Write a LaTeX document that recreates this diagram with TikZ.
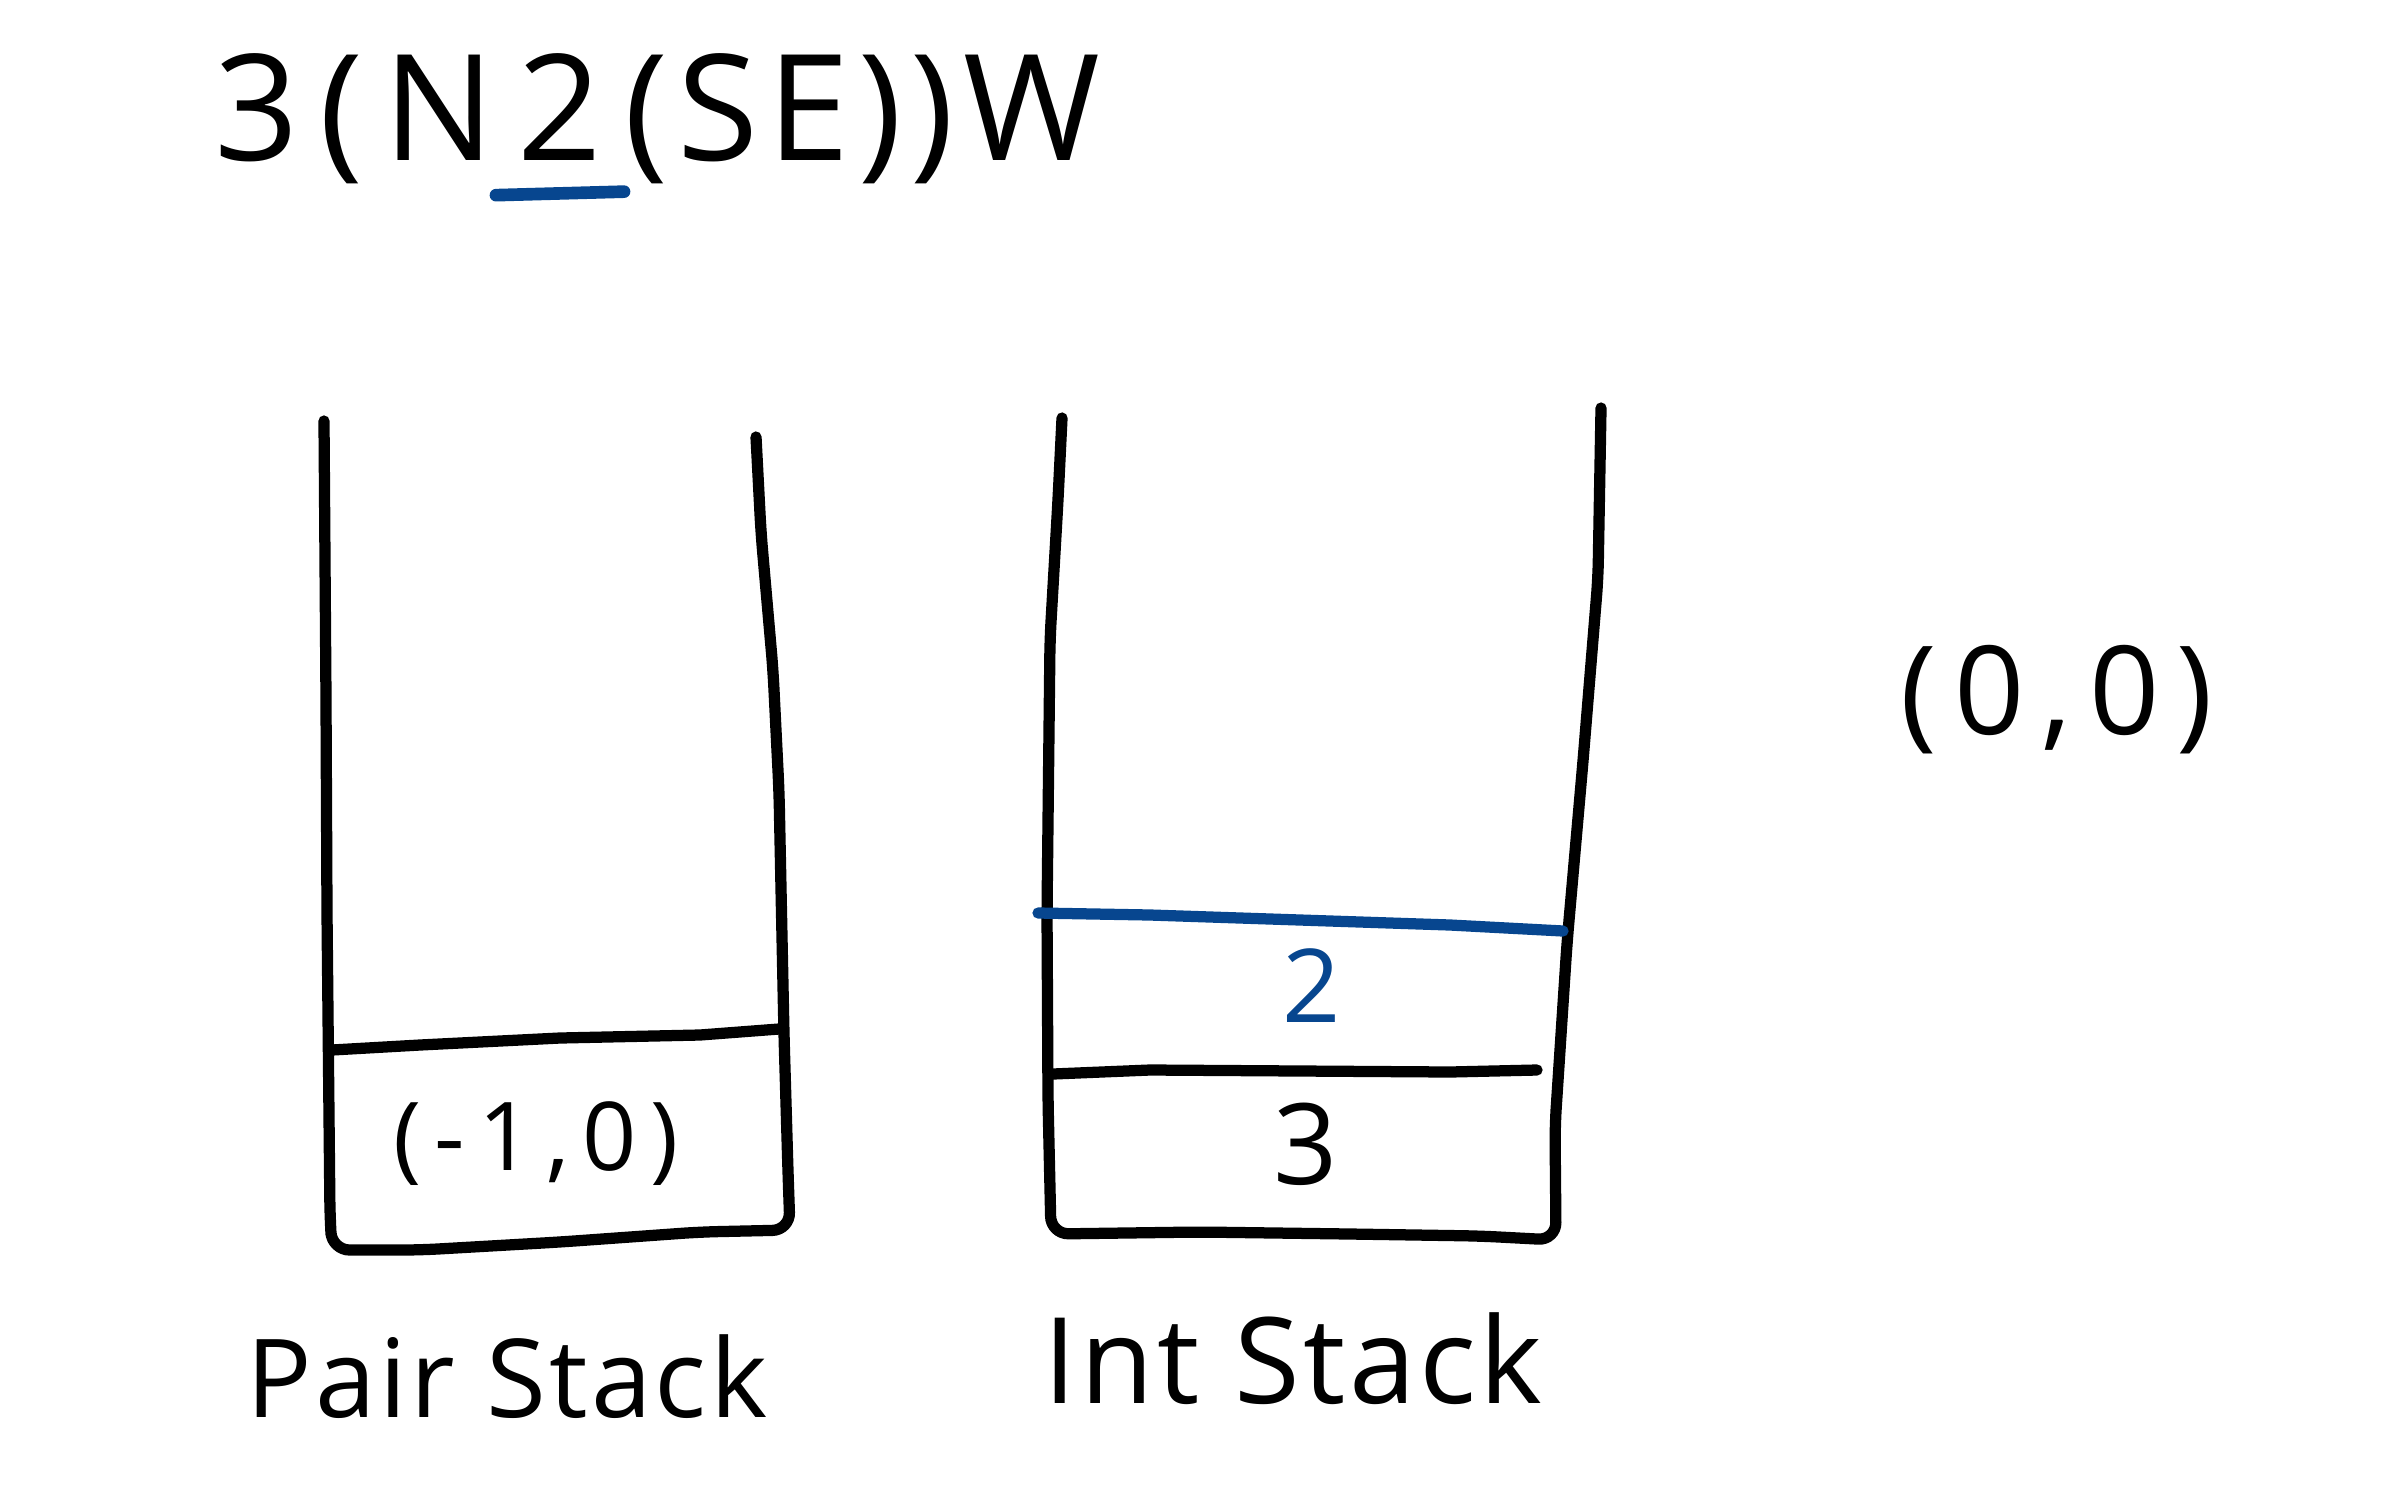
\documentclass[tikz,border=0pt]{standalone}
\usepackage{fontspec}
\usetikzlibrary{positioning}
\newfontfamily\hand[LetterSpace=3]{Open Sans}
\newfontfamily\handmid[LetterSpace=6]{Open Sans}
\newfontfamily\handwide[LetterSpace=14]{Open Sans}
\definecolor{ink}{HTML}{000000}
\definecolor{mark}{HTML}{07468F}
\tikzset{
  wall/.style     ={draw=ink, line width=3.2pt, line cap=round, line join=round},
  % the blue strokes: top of the int stack and the digit in the title
  markline/.style ={wall, draw=mark},
  handtxt/.style  ={inner sep=0pt, text=ink},
  titletxt/.style ={handtxt, font=\handwide\fontsize{42}{46}\selectfont},
  cell/.style     ={handtxt, font=\hand\fontsize{29}{34}\selectfont},
  stackname/.style={handtxt, font=\hand\fontsize{31}{36}\selectfont},
}
\begin{document}
\begin{tikzpicture}[x=0.01cm, y=-0.01cm]
    \useasboundingbox (0,0) rectangle (2386,1491);
    % title
    \node[titletxt, anchor=base] (tnum) at (560,160) {2};
    \node[titletxt, anchor=base east] (tleft) at ([xshift=-6pt]tnum.base west) {3(N};
    \node[titletxt, font=\handmid\fontsize{42}{46}\selectfont, anchor=base west] (tright)
      at ([xshift=6pt]tnum.base east) {(SE))W};
    \draw[markline, line width=3.6pt] ([xshift=-6pt,yshift=-10pt]tnum.base west)
      -- ([xshift=6pt,yshift=-9pt]tnum.base east);
    % pair stack
    \draw[wall, rounded corners=5pt] (324,421) -- (326,700) -- (327,913) -- (330,1217)
      -- (332,1250) -- (420,1250) -- (560,1242) -- (700,1232) -- (790,1230)
      -- (788,1172) -- (784,1035) -- (779,791) -- (773,670) -- (761,533) -- (756,437);
    \draw[wall] (332,1050) -- (420,1045) -- (560,1038) -- (700,1035) -- (779,1029);
    \node[cell, font=\handwide\fontsize{27}{32}\selectfont] (pairtop) at (536,1144) {(-1,0)};
    % int stack
    \draw[wall, rounded corners=5pt] (1062,418) -- (1058,500) -- (1050,639) -- (1047,913)
      -- (1048,1100) -- (1051,1234) -- (1200,1232) -- (1350,1234) -- (1480,1236)
      -- (1556,1240) -- (1555,1126) -- (1567,943) -- (1583,761) -- (1598,578) -- (1601,408);
    \draw[markline] (1038,913) -- (1150,915) -- (1300,920) -- (1450,925) -- (1563,931);
    \draw[wall] (1053,1074) -- (1150,1070) -- (1300,1071) -- (1450,1072) -- (1537,1070);
    \node[cell, text=mark] (inttop) at (1312,986) {2};
    \node[cell, font=\hand\fontsize{32}{36}\selectfont] (intbottom) at (1306,1144) {3};
    % loose pair
    \node[cell, font=\handwide\fontsize{35}{40}\selectfont] (origin) at (2057,700) {(0,0)};
    % stack names
    \node[stackname] (pairname) at (507,1377) {Pair Stack};
    \node[stackname, font=\hand\fontsize{34}{40}\selectfont] (intname) at (1293,1359) {Int Stack};
  \end{tikzpicture}
\end{document}
